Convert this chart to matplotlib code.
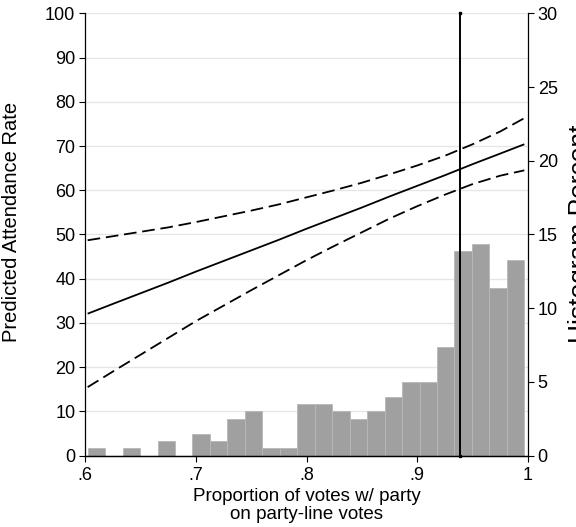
import matplotlib
matplotlib.use("Agg")
import matplotlib.pyplot as plt
import numpy as np

plt.rcParams["font.family"] = ["Liberation Sans", "DejaVu Sans"]

# Histogram of the share of party-line votes (percent per bin)
bin_lo = 0.6024
bin_hi = 0.9967
hist_pct = [0.5, 0.0, 0.5, 0.0, 1.0, 0.0, 1.5, 1.0, 2.5, 3.0, 0.5, 0.5, 3.5,
            3.5, 3.0, 2.5, 3.0, 4.0, 5.0, 5.0, 7.4, 13.9, 14.35, 11.4, 13.3]

# Predicted attendance with confidence band
x_pred = [0.6024, 0.625, 0.65, 0.675, 0.70, 0.725, 0.75, 0.775, 0.80, 0.825,
          0.85, 0.875, 0.90, 0.925, 0.95, 0.975, 0.9967]
fit = [32.1, 34.3, 36.7, 39.1, 41.6, 44.0, 46.4, 48.8, 51.3, 53.7,
       56.1, 58.6, 61.0, 63.4, 65.9, 68.3, 70.4]
upper = [48.7, 49.6, 50.6, 51.6, 52.8, 54.1, 55.4, 56.8, 58.4, 60.0,
         61.7, 63.6, 65.6, 67.8, 70.4, 73.3, 76.3]
lower = [15.5, 19.0, 22.8, 26.6, 30.4, 33.9, 37.4, 40.8, 44.2, 47.4,
         50.5, 53.6, 56.4, 59.0, 61.4, 63.3, 64.5]

# Mean of the party-line share
x_mean = 0.939

xticks = [0.6, 0.7, 0.8, 0.9, 1.0]
xtick_labels = [".6", ".7", ".8", ".9", "1"]
yticks_left = list(range(0, 101, 10))
yticks_right = list(range(0, 31, 5))

fig = plt.figure(figsize=(5.76, 5.27), dpi=100)
ax = fig.add_axes([85 / 576, 1 - 455.7 / 527, 443 / 576, 442.4 / 527])
axr = ax.twinx()
ax.set_zorder(2)
axr.set_zorder(1)
ax.patch.set_visible(False)

# Histogram on the right axis
n_bins = len(hist_pct)
edges = np.linspace(bin_lo, bin_hi, n_bins + 1)
axr.bar(edges[:-1], hist_pct, width=np.diff(edges), align="edge",
        color="#a0a0a0", edgecolor="#b8b8b8", linewidth=0.6)
axr.set_ylim(0, 30)
axr.set_yticks(yticks_right)

# Light horizontal grid at left-axis ticks (drawn behind the bars)
for yv in yticks_left:
    axr.axhline(yv * 30 / 100, color="#e6e6e6", linewidth=1.0, zorder=0)

# Prediction lines
dash = (0, (7.0, 3.2))
ax.plot(x_pred, fit, color="black", linewidth=1.3, solid_capstyle="butt")
ax.plot(x_pred, upper, color="black", linewidth=1.3, linestyle=dash)
ax.plot(x_pred, lower, color="black", linewidth=1.3, linestyle=dash)
ax.plot([x_mean, x_mean], [0, 100], color="black", linewidth=1.4,
        marker="s", markersize=2, clip_on=False)

ax.set_xlim(0.6, 1.0)
ax.set_ylim(0, 100)
ax.set_xticks(xticks)
ax.set_xticklabels(xtick_labels)
ax.set_yticks(yticks_left)

for a in (ax, axr):
    a.spines["top"].set_visible(False)
    for s in ("left", "right", "bottom"):
        a.spines[s].set_linewidth(0.9)
    a.tick_params(direction="out", length=4, width=0.8, labelsize=13,
                  pad=3, colors="black")
ax.tick_params(axis="x", pad=4)
ax.spines["right"].set_visible(False)
axr.spines["left"].set_visible(False)

ax.set_xlabel("Proportion of votes w/ party\non party-line votes",
              fontsize=13.5, linespacing=1.08, labelpad=3)
fig.text(2 / 576, 1 - 222 / 527, "Predicted Attendance Rate", rotation=90,
         ha="left", va="center", fontsize=14.5)
fig.text(568 / 576, 1 - 234 / 527, "Histogram Percent", rotation=90,
         ha="left", va="center", fontsize=19)

fig.savefig("out.png", dpi=100)
